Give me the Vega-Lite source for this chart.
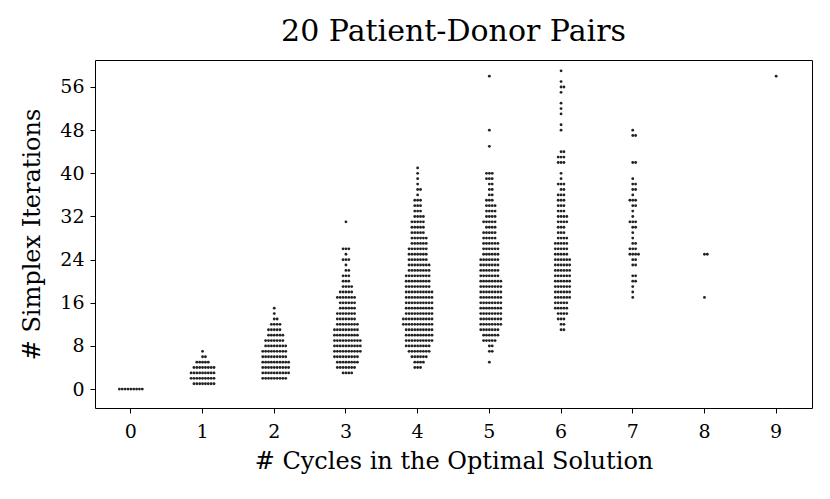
{
  "$schema": "https://vega.github.io/schema/vega-lite/v6.json",
  "width": 717,
  "height": 348,
  "autosize": "none",
  "padding": {"left": 95, "top": 60, "right": 18, "bottom": 91},
  "background": "white",
  "title": {"text": "20 Patient-Donor Pairs", "font": "DejaVu Serif", "fontSize": 30, "fontWeight": "normal", "color": "black", "offset": 13},
  "data": {"values": [
{"c":0,"i":0},{"c":0,"i":0},{"c":0,"i":0},{"c":0,"i":0},{"c":0,"i":0},{"c":0,"i":0},{"c":0,"i":0},{"c":0,"i":0},{"c":0,"i":0},
{"c":1,"i":1},{"c":1,"i":1},{"c":1,"i":1},{"c":1,"i":1},{"c":1,"i":1},{"c":1,"i":1},{"c":1,"i":1},{"c":1,"i":1},
{"c":1,"i":2},{"c":1,"i":2},{"c":1,"i":2},{"c":1,"i":2},{"c":1,"i":2},{"c":1,"i":2},{"c":1,"i":2},{"c":1,"i":2},{"c":1,"i":2},
{"c":1,"i":3},{"c":1,"i":3},{"c":1,"i":3},{"c":1,"i":3},{"c":1,"i":3},{"c":1,"i":3},{"c":1,"i":3},{"c":1,"i":3},{"c":1,"i":3},
{"c":1,"i":4},{"c":1,"i":4},{"c":1,"i":4},{"c":1,"i":4},{"c":1,"i":4},{"c":1,"i":4},{"c":1,"i":4},{"c":1,"i":4},
{"c":1,"i":5},{"c":1,"i":5},{"c":1,"i":5},{"c":1,"i":5},{"c":1,"i":5},
{"c":1,"i":6},{"c":1,"i":6},{"c":1,"i":7},
{"c":2,"i":15},{"c":2,"i":14},{"c":2,"i":13},{"c":2,"i":13},
{"c":2,"i":12},{"c":2,"i":12},{"c":2,"i":12},{"c":2,"i":12},
{"c":2,"i":11},{"c":2,"i":11},{"c":2,"i":11},{"c":2,"i":11},{"c":2,"i":11},
{"c":2,"i":10},{"c":2,"i":10},{"c":2,"i":10},{"c":2,"i":10},{"c":2,"i":10},{"c":2,"i":10},
{"c":2,"i":9},{"c":2,"i":9},{"c":2,"i":9},{"c":2,"i":9},{"c":2,"i":9},{"c":2,"i":9},{"c":2,"i":9},
{"c":2,"i":8},{"c":2,"i":8},{"c":2,"i":8},{"c":2,"i":8},{"c":2,"i":8},{"c":2,"i":8},{"c":2,"i":8},{"c":2,"i":8},
{"c":2,"i":7},{"c":2,"i":7},{"c":2,"i":7},{"c":2,"i":7},{"c":2,"i":7},{"c":2,"i":7},{"c":2,"i":7},{"c":2,"i":7},{"c":2,"i":7},
{"c":2,"i":6},{"c":2,"i":6},{"c":2,"i":6},{"c":2,"i":6},{"c":2,"i":6},{"c":2,"i":6},{"c":2,"i":6},{"c":2,"i":6},{"c":2,"i":6},
{"c":2,"i":5},{"c":2,"i":5},{"c":2,"i":5},{"c":2,"i":5},{"c":2,"i":5},{"c":2,"i":5},{"c":2,"i":5},{"c":2,"i":5},{"c":2,"i":5},{"c":2,"i":5},
{"c":2,"i":4},{"c":2,"i":4},{"c":2,"i":4},{"c":2,"i":4},{"c":2,"i":4},{"c":2,"i":4},{"c":2,"i":4},{"c":2,"i":4},{"c":2,"i":4},{"c":2,"i":4},
{"c":2,"i":3},{"c":2,"i":3},{"c":2,"i":3},{"c":2,"i":3},{"c":2,"i":3},{"c":2,"i":3},{"c":2,"i":3},{"c":2,"i":3},{"c":2,"i":3},{"c":2,"i":3},
{"c":2,"i":2},{"c":2,"i":2},{"c":2,"i":2},{"c":2,"i":2},{"c":2,"i":2},{"c":2,"i":2},{"c":2,"i":2},{"c":2,"i":2},{"c":2,"i":2},
{"c":3,"i":31},{"c":3,"i":26},{"c":3,"i":26},{"c":3,"i":26},{"c":3,"i":25},{"c":3,"i":24},{"c":3,"i":24},{"c":3,"i":24},{"c":3,"i":23},
{"c":3,"i":22},{"c":3,"i":22},{"c":3,"i":21},{"c":3,"i":21},{"c":3,"i":21},{"c":3,"i":20},{"c":3,"i":20},{"c":3,"i":20},
{"c":3,"i":19},{"c":3,"i":19},{"c":3,"i":19},{"c":3,"i":19},
{"c":3,"i":18},{"c":3,"i":18},{"c":3,"i":18},{"c":3,"i":18},{"c":3,"i":18},
{"c":3,"i":17},{"c":3,"i":17},{"c":3,"i":17},{"c":3,"i":17},{"c":3,"i":17},{"c":3,"i":17},{"c":3,"i":17},
{"c":3,"i":16},{"c":3,"i":16},{"c":3,"i":16},{"c":3,"i":16},{"c":3,"i":16},{"c":3,"i":16},
{"c":3,"i":15},{"c":3,"i":15},{"c":3,"i":15},{"c":3,"i":15},{"c":3,"i":15},{"c":3,"i":15},
{"c":3,"i":14},{"c":3,"i":14},{"c":3,"i":14},{"c":3,"i":14},{"c":3,"i":14},{"c":3,"i":14},{"c":3,"i":14},
{"c":3,"i":13},{"c":3,"i":13},{"c":3,"i":13},{"c":3,"i":13},{"c":3,"i":13},{"c":3,"i":13},{"c":3,"i":13},
{"c":3,"i":12},{"c":3,"i":12},{"c":3,"i":12},{"c":3,"i":12},{"c":3,"i":12},{"c":3,"i":12},{"c":3,"i":12},{"c":3,"i":12},
{"c":3,"i":11},{"c":3,"i":11},{"c":3,"i":11},{"c":3,"i":11},{"c":3,"i":11},{"c":3,"i":11},{"c":3,"i":11},{"c":3,"i":11},{"c":3,"i":11},
{"c":3,"i":10},{"c":3,"i":10},{"c":3,"i":10},{"c":3,"i":10},{"c":3,"i":10},{"c":3,"i":10},{"c":3,"i":10},{"c":3,"i":10},{"c":3,"i":10},
{"c":3,"i":9},{"c":3,"i":9},{"c":3,"i":9},{"c":3,"i":9},{"c":3,"i":9},{"c":3,"i":9},{"c":3,"i":9},{"c":3,"i":9},{"c":3,"i":9},{"c":3,"i":9},
{"c":3,"i":8},{"c":3,"i":8},{"c":3,"i":8},{"c":3,"i":8},{"c":3,"i":8},{"c":3,"i":8},{"c":3,"i":8},{"c":3,"i":8},{"c":3,"i":8},{"c":3,"i":8},
{"c":3,"i":7},{"c":3,"i":7},{"c":3,"i":7},{"c":3,"i":7},{"c":3,"i":7},{"c":3,"i":7},{"c":3,"i":7},{"c":3,"i":7},{"c":3,"i":7},{"c":3,"i":7},
{"c":3,"i":6},{"c":3,"i":6},{"c":3,"i":6},{"c":3,"i":6},{"c":3,"i":6},{"c":3,"i":6},{"c":3,"i":6},{"c":3,"i":6},{"c":3,"i":6},
{"c":3,"i":5},{"c":3,"i":5},{"c":3,"i":5},{"c":3,"i":5},{"c":3,"i":5},{"c":3,"i":5},{"c":3,"i":5},{"c":3,"i":5},
{"c":3,"i":4},{"c":3,"i":4},{"c":3,"i":4},{"c":3,"i":4},{"c":3,"i":4},{"c":3,"i":4},{"c":3,"i":4},
{"c":3,"i":3},{"c":3,"i":3},{"c":3,"i":3},{"c":3,"i":3},
{"c":4,"i":41},{"c":4,"i":40},{"c":4,"i":39},{"c":4,"i":38},{"c":4,"i":37},{"c":4,"i":37},{"c":4,"i":36},
{"c":4,"i":35},{"c":4,"i":35},{"c":4,"i":35},{"c":4,"i":34},{"c":4,"i":34},{"c":4,"i":34},{"c":4,"i":33},{"c":4,"i":33},{"c":4,"i":33},
{"c":4,"i":32},{"c":4,"i":32},{"c":4,"i":32},{"c":4,"i":32},
{"c":4,"i":31},{"c":4,"i":31},{"c":4,"i":31},{"c":4,"i":31},{"c":4,"i":31},
{"c":4,"i":30},{"c":4,"i":30},{"c":4,"i":30},{"c":4,"i":30},{"c":4,"i":30},
{"c":4,"i":29},{"c":4,"i":29},{"c":4,"i":29},{"c":4,"i":29},{"c":4,"i":29},
{"c":4,"i":28},{"c":4,"i":28},{"c":4,"i":28},{"c":4,"i":28},{"c":4,"i":28},{"c":4,"i":28},
{"c":4,"i":27},{"c":4,"i":27},{"c":4,"i":27},{"c":4,"i":27},{"c":4,"i":27},{"c":4,"i":27},
{"c":4,"i":26},{"c":4,"i":26},{"c":4,"i":26},{"c":4,"i":26},{"c":4,"i":26},{"c":4,"i":26},{"c":4,"i":26},
{"c":4,"i":25},{"c":4,"i":25},{"c":4,"i":25},{"c":4,"i":25},{"c":4,"i":25},{"c":4,"i":25},{"c":4,"i":25},
{"c":4,"i":24},{"c":4,"i":24},{"c":4,"i":24},{"c":4,"i":24},{"c":4,"i":24},{"c":4,"i":24},{"c":4,"i":24},
{"c":4,"i":23},{"c":4,"i":23},{"c":4,"i":23},{"c":4,"i":23},{"c":4,"i":23},{"c":4,"i":23},{"c":4,"i":23},{"c":4,"i":23},
{"c":4,"i":22},{"c":4,"i":22},{"c":4,"i":22},{"c":4,"i":22},{"c":4,"i":22},{"c":4,"i":22},{"c":4,"i":22},{"c":4,"i":22},
{"c":4,"i":21},{"c":4,"i":21},{"c":4,"i":21},{"c":4,"i":21},{"c":4,"i":21},{"c":4,"i":21},{"c":4,"i":21},{"c":4,"i":21},{"c":4,"i":21},
{"c":4,"i":20},{"c":4,"i":20},{"c":4,"i":20},{"c":4,"i":20},{"c":4,"i":20},{"c":4,"i":20},{"c":4,"i":20},{"c":4,"i":20},{"c":4,"i":20},
{"c":4,"i":19},{"c":4,"i":19},{"c":4,"i":19},{"c":4,"i":19},{"c":4,"i":19},{"c":4,"i":19},{"c":4,"i":19},{"c":4,"i":19},{"c":4,"i":19},
{"c":4,"i":18},{"c":4,"i":18},{"c":4,"i":18},{"c":4,"i":18},{"c":4,"i":18},{"c":4,"i":18},{"c":4,"i":18},{"c":4,"i":18},{"c":4,"i":18},{"c":4,"i":18},
{"c":4,"i":17},{"c":4,"i":17},{"c":4,"i":17},{"c":4,"i":17},{"c":4,"i":17},{"c":4,"i":17},{"c":4,"i":17},{"c":4,"i":17},{"c":4,"i":17},{"c":4,"i":17},
{"c":4,"i":16},{"c":4,"i":16},{"c":4,"i":16},{"c":4,"i":16},{"c":4,"i":16},{"c":4,"i":16},{"c":4,"i":16},{"c":4,"i":16},{"c":4,"i":16},{"c":4,"i":16},
{"c":4,"i":15},{"c":4,"i":15},{"c":4,"i":15},{"c":4,"i":15},{"c":4,"i":15},{"c":4,"i":15},{"c":4,"i":15},{"c":4,"i":15},{"c":4,"i":15},{"c":4,"i":15},
{"c":4,"i":14},{"c":4,"i":14},{"c":4,"i":14},{"c":4,"i":14},{"c":4,"i":14},{"c":4,"i":14},{"c":4,"i":14},{"c":4,"i":14},{"c":4,"i":14},{"c":4,"i":14},
{"c":4,"i":13},{"c":4,"i":13},{"c":4,"i":13},{"c":4,"i":13},{"c":4,"i":13},{"c":4,"i":13},{"c":4,"i":13},{"c":4,"i":13},{"c":4,"i":13},{"c":4,"i":13},{"c":4,"i":13},
{"c":4,"i":12},{"c":4,"i":12},{"c":4,"i":12},{"c":4,"i":12},{"c":4,"i":12},{"c":4,"i":12},{"c":4,"i":12},{"c":4,"i":12},{"c":4,"i":12},{"c":4,"i":12},{"c":4,"i":12},
{"c":4,"i":11},{"c":4,"i":11},{"c":4,"i":11},{"c":4,"i":11},{"c":4,"i":11},{"c":4,"i":11},{"c":4,"i":11},{"c":4,"i":11},{"c":4,"i":11},{"c":4,"i":11},
{"c":4,"i":10},{"c":4,"i":10},{"c":4,"i":10},{"c":4,"i":10},{"c":4,"i":10},{"c":4,"i":10},{"c":4,"i":10},{"c":4,"i":10},{"c":4,"i":10},{"c":4,"i":10},
{"c":4,"i":9},{"c":4,"i":9},{"c":4,"i":9},{"c":4,"i":9},{"c":4,"i":9},{"c":4,"i":9},{"c":4,"i":9},{"c":4,"i":9},{"c":4,"i":9},{"c":4,"i":9},
{"c":4,"i":8},{"c":4,"i":8},{"c":4,"i":8},{"c":4,"i":8},{"c":4,"i":8},{"c":4,"i":8},{"c":4,"i":8},{"c":4,"i":8},{"c":4,"i":8},
{"c":4,"i":7},{"c":4,"i":7},{"c":4,"i":7},{"c":4,"i":7},{"c":4,"i":7},{"c":4,"i":7},{"c":4,"i":7},{"c":4,"i":7},
{"c":4,"i":6},{"c":4,"i":6},{"c":4,"i":6},{"c":4,"i":6},{"c":4,"i":6},{"c":4,"i":6},
{"c":4,"i":5},{"c":4,"i":5},{"c":4,"i":5},{"c":4,"i":5},{"c":4,"i":4},{"c":4,"i":4},{"c":4,"i":4},
{"c":5,"i":58},{"c":5,"i":48},{"c":5,"i":45},
{"c":5,"i":40},{"c":5,"i":40},{"c":5,"i":40},{"c":5,"i":39},{"c":5,"i":39},{"c":5,"i":39},{"c":5,"i":38},{"c":5,"i":38},
{"c":5,"i":37},{"c":5,"i":37},{"c":5,"i":36},{"c":5,"i":36},{"c":5,"i":35},{"c":5,"i":35},{"c":5,"i":35},
{"c":5,"i":34},{"c":5,"i":34},{"c":5,"i":34},{"c":5,"i":34},{"c":5,"i":33},{"c":5,"i":33},{"c":5,"i":33},{"c":5,"i":33},
{"c":5,"i":32},{"c":5,"i":32},{"c":5,"i":32},{"c":5,"i":32},{"c":5,"i":31},{"c":5,"i":31},{"c":5,"i":31},{"c":5,"i":31},{"c":5,"i":31},
{"c":5,"i":30},{"c":5,"i":30},{"c":5,"i":30},{"c":5,"i":30},{"c":5,"i":29},{"c":5,"i":29},{"c":5,"i":29},{"c":5,"i":29},{"c":5,"i":29},
{"c":5,"i":28},{"c":5,"i":28},{"c":5,"i":28},{"c":5,"i":28},{"c":5,"i":28},
{"c":5,"i":27},{"c":5,"i":27},{"c":5,"i":27},{"c":5,"i":27},{"c":5,"i":27},{"c":5,"i":27},
{"c":5,"i":26},{"c":5,"i":26},{"c":5,"i":26},{"c":5,"i":26},{"c":5,"i":26},{"c":5,"i":26},
{"c":5,"i":25},{"c":5,"i":25},{"c":5,"i":25},{"c":5,"i":25},{"c":5,"i":25},{"c":5,"i":25},
{"c":5,"i":24},{"c":5,"i":24},{"c":5,"i":24},{"c":5,"i":24},{"c":5,"i":24},{"c":5,"i":24},{"c":5,"i":24},
{"c":5,"i":23},{"c":5,"i":23},{"c":5,"i":23},{"c":5,"i":23},{"c":5,"i":23},{"c":5,"i":23},{"c":5,"i":23},
{"c":5,"i":22},{"c":5,"i":22},{"c":5,"i":22},{"c":5,"i":22},{"c":5,"i":22},{"c":5,"i":22},{"c":5,"i":22},
{"c":5,"i":21},{"c":5,"i":21},{"c":5,"i":21},{"c":5,"i":21},{"c":5,"i":21},{"c":5,"i":21},{"c":5,"i":21},
{"c":5,"i":20},{"c":5,"i":20},{"c":5,"i":20},{"c":5,"i":20},{"c":5,"i":20},{"c":5,"i":20},{"c":5,"i":20},{"c":5,"i":20},
{"c":5,"i":19},{"c":5,"i":19},{"c":5,"i":19},{"c":5,"i":19},{"c":5,"i":19},{"c":5,"i":19},{"c":5,"i":19},{"c":5,"i":19},
{"c":5,"i":18},{"c":5,"i":18},{"c":5,"i":18},{"c":5,"i":18},{"c":5,"i":18},{"c":5,"i":18},{"c":5,"i":18},{"c":5,"i":18},
{"c":5,"i":17},{"c":5,"i":17},{"c":5,"i":17},{"c":5,"i":17},{"c":5,"i":17},{"c":5,"i":17},{"c":5,"i":17},{"c":5,"i":17},
{"c":5,"i":16},{"c":5,"i":16},{"c":5,"i":16},{"c":5,"i":16},{"c":5,"i":16},{"c":5,"i":16},{"c":5,"i":16},{"c":5,"i":16},
{"c":5,"i":15},{"c":5,"i":15},{"c":5,"i":15},{"c":5,"i":15},{"c":5,"i":15},{"c":5,"i":15},{"c":5,"i":15},{"c":5,"i":15},
{"c":5,"i":14},{"c":5,"i":14},{"c":5,"i":14},{"c":5,"i":14},{"c":5,"i":14},{"c":5,"i":14},{"c":5,"i":14},{"c":5,"i":14},
{"c":5,"i":13},{"c":5,"i":13},{"c":5,"i":13},{"c":5,"i":13},{"c":5,"i":13},{"c":5,"i":13},{"c":5,"i":13},{"c":5,"i":13},
{"c":5,"i":12},{"c":5,"i":12},{"c":5,"i":12},{"c":5,"i":12},{"c":5,"i":12},{"c":5,"i":12},{"c":5,"i":12},{"c":5,"i":12},
{"c":5,"i":11},{"c":5,"i":11},{"c":5,"i":11},{"c":5,"i":11},{"c":5,"i":11},{"c":5,"i":11},{"c":5,"i":11},
{"c":5,"i":10},{"c":5,"i":10},{"c":5,"i":10},{"c":5,"i":10},{"c":5,"i":10},{"c":5,"i":10},
{"c":5,"i":9},{"c":5,"i":9},{"c":5,"i":9},{"c":5,"i":9},{"c":5,"i":9},
{"c":5,"i":8},{"c":5,"i":8},{"c":5,"i":7},{"c":5,"i":7},{"c":5,"i":5},
{"c":6,"i":59},{"c":6,"i":57},{"c":6,"i":56},{"c":6,"i":56},{"c":6,"i":55},{"c":6,"i":53},{"c":6,"i":52},{"c":6,"i":51},{"c":6,"i":49},{"c":6,"i":48},
{"c":6,"i":44},{"c":6,"i":44},{"c":6,"i":43},{"c":6,"i":43},{"c":6,"i":43},{"c":6,"i":42},{"c":6,"i":42},{"c":6,"i":42},
{"c":6,"i":40},{"c":6,"i":39},{"c":6,"i":38},{"c":6,"i":38},{"c":6,"i":38},{"c":6,"i":37},{"c":6,"i":37},
{"c":6,"i":36},{"c":6,"i":36},{"c":6,"i":36},{"c":6,"i":35},{"c":6,"i":35},{"c":6,"i":35},{"c":6,"i":34},{"c":6,"i":34},{"c":6,"i":34},
{"c":6,"i":33},{"c":6,"i":33},{"c":6,"i":33},{"c":6,"i":32},{"c":6,"i":32},{"c":6,"i":32},{"c":6,"i":32},
{"c":6,"i":31},{"c":6,"i":31},{"c":6,"i":31},{"c":6,"i":31},{"c":6,"i":30},{"c":6,"i":30},{"c":6,"i":30},
{"c":6,"i":29},{"c":6,"i":29},{"c":6,"i":29},{"c":6,"i":28},{"c":6,"i":28},{"c":6,"i":28},{"c":6,"i":28},
{"c":6,"i":27},{"c":6,"i":27},{"c":6,"i":27},{"c":6,"i":27},{"c":6,"i":27},
{"c":6,"i":26},{"c":6,"i":26},{"c":6,"i":26},{"c":6,"i":26},{"c":6,"i":26},
{"c":6,"i":25},{"c":6,"i":25},{"c":6,"i":25},{"c":6,"i":25},{"c":6,"i":25},
{"c":6,"i":24},{"c":6,"i":24},{"c":6,"i":24},{"c":6,"i":24},{"c":6,"i":24},{"c":6,"i":24},
{"c":6,"i":23},{"c":6,"i":23},{"c":6,"i":23},{"c":6,"i":23},{"c":6,"i":23},{"c":6,"i":23},
{"c":6,"i":22},{"c":6,"i":22},{"c":6,"i":22},{"c":6,"i":22},{"c":6,"i":22},{"c":6,"i":22},
{"c":6,"i":21},{"c":6,"i":21},{"c":6,"i":21},{"c":6,"i":21},{"c":6,"i":21},{"c":6,"i":21},
{"c":6,"i":20},{"c":6,"i":20},{"c":6,"i":20},{"c":6,"i":20},{"c":6,"i":20},{"c":6,"i":20},
{"c":6,"i":19},{"c":6,"i":19},{"c":6,"i":19},{"c":6,"i":19},{"c":6,"i":19},{"c":6,"i":19},
{"c":6,"i":18},{"c":6,"i":18},{"c":6,"i":18},{"c":6,"i":18},{"c":6,"i":18},{"c":6,"i":18},
{"c":6,"i":17},{"c":6,"i":17},{"c":6,"i":17},{"c":6,"i":17},{"c":6,"i":17},{"c":6,"i":17},
{"c":6,"i":16},{"c":6,"i":16},{"c":6,"i":16},{"c":6,"i":16},{"c":6,"i":16},
{"c":6,"i":15},{"c":6,"i":15},{"c":6,"i":15},{"c":6,"i":15},{"c":6,"i":15},
{"c":6,"i":14},{"c":6,"i":14},{"c":6,"i":14},{"c":6,"i":14},{"c":6,"i":13},{"c":6,"i":13},{"c":6,"i":13},
{"c":6,"i":12},{"c":6,"i":12},{"c":6,"i":11},{"c":6,"i":11},
{"c":7,"i":48},{"c":7,"i":47},{"c":7,"i":47},{"c":7,"i":42},{"c":7,"i":42},{"c":7,"i":39},{"c":7,"i":38},{"c":7,"i":38},
{"c":7,"i":37},{"c":7,"i":37},{"c":7,"i":36},{"c":7,"i":35},{"c":7,"i":35},{"c":7,"i":35},{"c":7,"i":34},{"c":7,"i":34},
{"c":7,"i":33},{"c":7,"i":32},{"c":7,"i":31},{"c":7,"i":31},{"c":7,"i":31},{"c":7,"i":30},{"c":7,"i":30},{"c":7,"i":29},{"c":7,"i":28},
{"c":7,"i":27},{"c":7,"i":27},{"c":7,"i":26},{"c":7,"i":26},{"c":7,"i":26},{"c":7,"i":25},{"c":7,"i":25},{"c":7,"i":25},{"c":7,"i":25},
{"c":7,"i":24},{"c":7,"i":24},{"c":7,"i":23},{"c":7,"i":23},{"c":7,"i":21},{"c":7,"i":21},{"c":7,"i":20},{"c":7,"i":20},
{"c":7,"i":19},{"c":7,"i":18},{"c":7,"i":17},
{"c":8,"i":25},{"c":8,"i":25},{"c":8,"i":17},
{"c":9,"i":58}
  ]},
  "transform": [
    {"window": [{"op": "row_number", "as": "k"}], "groupby": ["c", "i"]}
  ],
  "mark": {"type": "point", "filled": true, "size": 8, "color": "#222222", "opacity": 1},
  "encoding": {
    "x": {
      "field": "c", "type": "ordinal",
      "scale": {"domain": [0, 1, 2, 3, 4, 5, 6, 7, 8, 9], "paddingInner": 0, "paddingOuter": 0},
      "axis": {"title": "# Cycles in the Optimal Solution", "labelAngle": 0, "labelPadding": 9, "titlePadding": 8}
    },
    "xOffset": {
      "field": "k", "type": "ordinal",
      "scale": {"type": "point", "domain": [25, 23, 21, 19, 17, 15, 13, 11, 9, 7, 5, 3, 1, 2, 4, 6, 8, 10, 12, 14, 16, 18, 20, 22, 24], "padding": 0.5}
    },
    "y": {
      "field": "i", "type": "quantitative",
      "scale": {"domain": [-3.5, 61], "nice": false, "zero": false},
      "axis": {"title": "# Simplex Iterations", "values": [0, 8, 16, 24, 32, 40, 48, 56], "labelPadding": 6, "titlePadding": 15}
    }
  },
  "config": {
    "view": {"stroke": "black", "strokeWidth": 1},
    "axis": {
      "labelFont": "DejaVu Serif", "titleFont": "DejaVu Serif",
      "labelFontSize": 19, "titleFontSize": 24, "titleFontWeight": "normal",
      "labelColor": "black", "titleColor": "black",
      "tickColor": "black", "tickSize": 5, "tickWidth": 1,
      "domain": false, "grid": false
    }
  }
}
